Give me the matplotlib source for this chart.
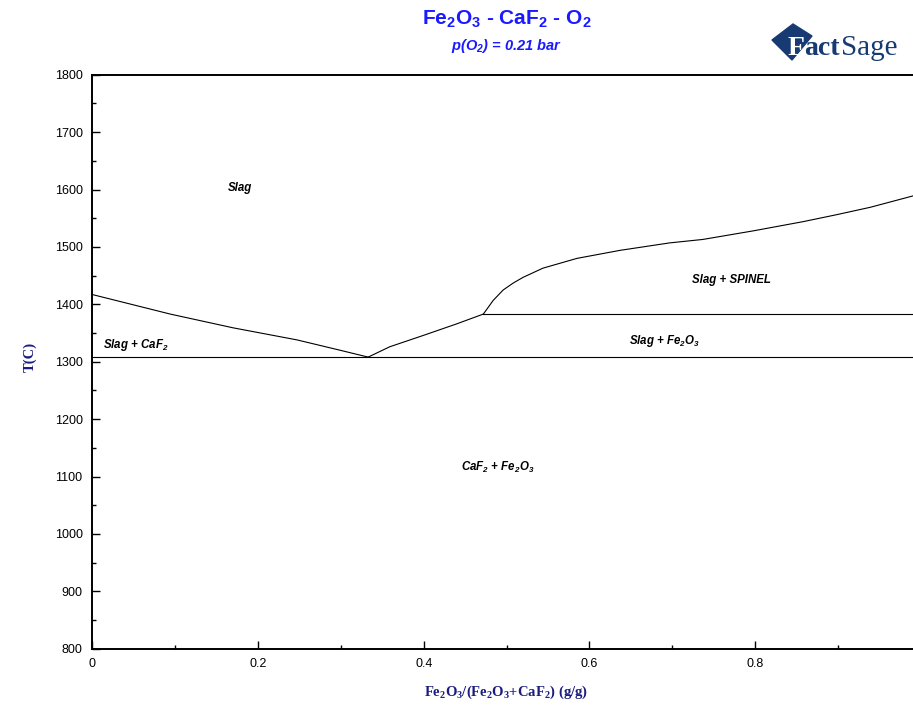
import matplotlib
matplotlib.use('Agg')
import matplotlib.pyplot as plt
from matplotlib.patches import Polygon
from matplotlib.ticker import MultipleLocator

plt.rcParams['mathtext.default'] = 'regular'

# Slag / CaF2 liquidus down to the eutectic
liq_caf2_x = [0.0, 0.094, 0.170, 0.247, 0.299, 0.333]
liq_caf2_t = [1417, 1383, 1359, 1338, 1320, 1308]

# Slag / Fe2O3 liquidus from eutectic up to the peritectic
liq_fe2o3_x = [0.333, 0.359, 0.400, 0.440, 0.472]
liq_fe2o3_t = [1308, 1326, 1346, 1366, 1383]

# Slag / spinel liquidus
liq_spinel_x = [0.472, 0.484, 0.496, 0.508, 0.520, 0.544, 0.585, 0.637, 0.697,
                0.737, 0.798, 0.858, 0.898, 0.939, 0.991, 1.0]
liq_spinel_t = [1383, 1407, 1425, 1437, 1447, 1463, 1480, 1494, 1507,
                1513, 1528, 1544, 1556, 1569, 1589, 1592]

# invariant lines
eutectic_t = 1308
eutectic_x = [0.0, 1.0]
peritectic_t = 1383
peritectic_x = [0.472, 1.0]

# phase field labels
field_text = ['Slag', 'Slag + SPINEL', 'Slag + Fe$_2$O$_3$',
              'Slag + CaF$_2$', 'CaF$_2$ + Fe$_2$O$_3$']
field_x = [0.178, 0.772, 0.691, 0.052, 0.489]
field_t = [1602, 1443, 1336, 1329, 1115]

x_ticks = [0, 0.2, 0.4, 0.6, 0.8, 1.0]
x_ticklabels = ['0', '0.2', '0.4', '0.6', '0.8', '']

W, H = 913, 705
fig = plt.figure(figsize=(W / 100, H / 100), dpi=100)
# plot frame runs past the right edge of the canvas
ax = fig.add_axes([92.3 / W, 1 - 648.7 / H, 828.5 / W, 574.0 / H])

lc = 'black'
ax.plot(liq_caf2_x, liq_caf2_t, color=lc, lw=0.8)
ax.plot(liq_fe2o3_x, liq_fe2o3_t, color=lc, lw=0.8)
ax.plot(liq_spinel_x, liq_spinel_t, color=lc, lw=0.8)
ax.plot(eutectic_x, [eutectic_t] * 2, color=lc, lw=0.8)
ax.plot(peritectic_x, [peritectic_t] * 2, color=lc, lw=0.8)

for txt, x, t in zip(field_text, field_x, field_t):
    ax.text(x, t, txt, ha='center', va='center', fontsize=8.3,
            family='Liberation Sans', weight='bold', style='italic')

ax.set_xlim(0, 1)
ax.set_ylim(800, 1800)
ax.xaxis.set_minor_locator(MultipleLocator(0.1))
ax.yaxis.set_major_locator(MultipleLocator(100))
ax.yaxis.set_minor_locator(MultipleLocator(50))
ax.set_xticks(x_ticks)
ax.set_xticklabels(x_ticklabels)
ax.tick_params(which='both', direction='in', right=True, top=False,
               width=1.0, pad=7, labelsize=9)
ax.tick_params(which='major', length=5.5)
ax.tick_params(which='minor', length=3)
for lab in ax.get_xticklabels() + ax.get_yticklabels():
    lab.set_family('Liberation Sans')
for sp in ax.spines.values():
    sp.set_linewidth(1.4)

label_color = '#1c1c80'
fig.text(506 / W, 1 - 692 / H, 'Fe$_2$O$_3$/(Fe$_2$O$_3$+CaF$_2$) (g/g)',
         ha='center', va='center', family='Liberation Serif', weight='bold',
         fontsize=10.5, color=label_color)
fig.text(30 / W, 1 - 357 / H, 'T(C)', ha='center', va='center', rotation=90,
         family='Liberation Serif', weight='bold', fontsize=10.5, color=label_color)

cx = (92.3 + 828.5 / 2) / W
fig.text(cx, 1 - 19 / H, 'Fe$_2$O$_3$ - CaF$_2$ - O$_2$', ha='center', va='center',
         family='Liberation Sans', weight='bold', fontsize=15, color='#1a1aff')
fig.text(cx, 1 - 46 / H, 'p(O$_2$) = 0.21 bar', ha='center', va='center',
         family='Liberation Sans', weight='bold', style='italic', fontsize=10.5,
         color='#1a1aff')

# FactSage logo
navy = '#173a73'
diamond = Polygon([[772 / W, 1 - 40 / H], [793 / W, 1 - 24 / H],
                   [812 / W, 1 - 36 / H], [792 / W, 1 - 60 / H]],
                  closed=True, transform=fig.transFigure, color=navy)
fig.patches.append(diamond)
fig.text(788 / W, 1 - 55 / H, 'F', family='Liberation Serif', weight='bold',
         fontsize=20, color='white', ha='left', va='baseline')
fig.text(804 / W, 1 - 55 / H, 'act', family='Liberation Serif', weight='bold',
         fontsize=20, color=navy, ha='left', va='baseline')
fig.text(841 / W, 1 - 55 / H, 'Sage', family='Liberation Serif',
         fontsize=21, color=navy, ha='left', va='baseline')

fig.savefig('out.png', dpi=100)
